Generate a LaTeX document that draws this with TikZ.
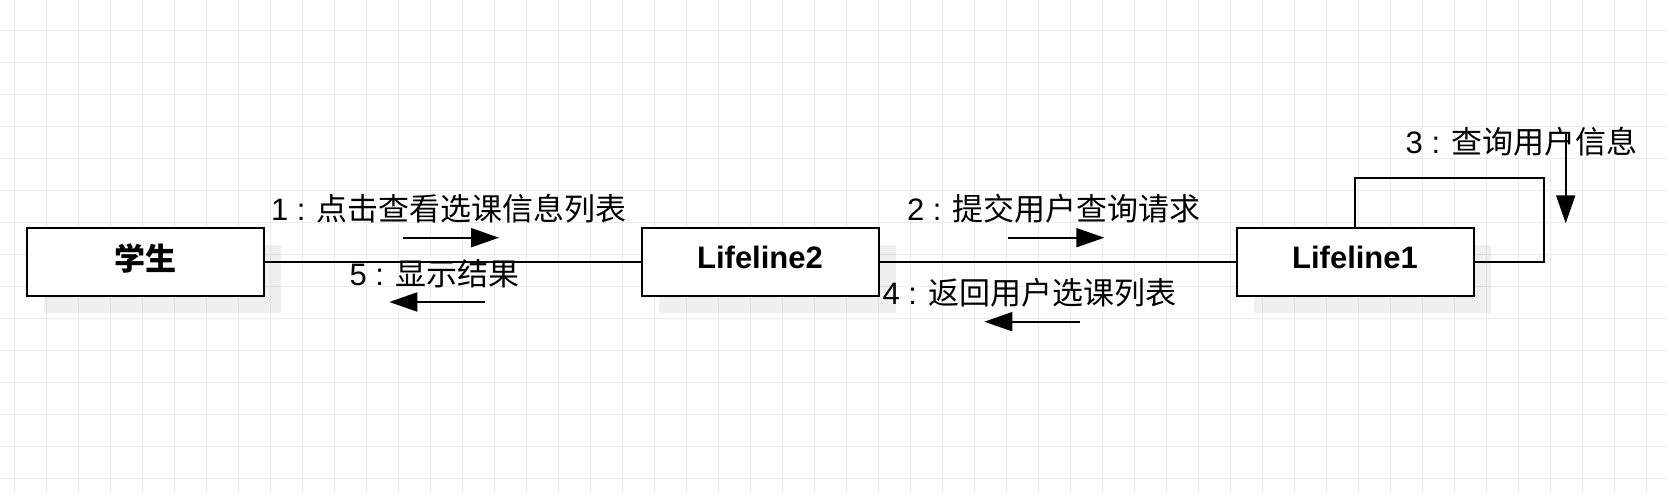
\documentclass[tikz,border=0pt]{standalone}
\usepackage{fontspec}
\setmainfont{Liberation Sans}
\newfontfamily\cjk{Noto Sans CJK SC}
\usetikzlibrary{arrows.meta,shadows}

\begin{document}
\begin{tikzpicture}[x=1pt,y=-1pt,
    font=\fontsize{31}{37}\selectfont,
    gridline/.style={draw=black!8,line width=1pt},
    lifeline/.style={draw,line width=2pt,fill=white,minimum width=237pt,minimum height=68pt,inner sep=0pt,text depth=10pt,font=\fontsize{31}{37}\selectfont\bfseries,drop shadow={shadow xshift=17pt,shadow yshift=-17pt,fill=black,opacity=0.06}},
    link/.style={line width=2pt},
    msgarrow/.style={line width=2pt,-{Triangle[length=28pt,width=19pt]}},
    msglabel/.style={anchor=base,inner sep=0pt}]
    \fill[white] (0,0) rectangle (1668,494);
    \useasboundingbox (0,0) rectangle (1668,494);
    \foreach \k in {0,...,51}
        \draw[gridline] ({14.3+32*\k},0) -- ({14.3+32*\k},494);
    \foreach \k in {0,...,14}
        \draw[gridline] (0,{30.3+32*\k}) -- (1668,{30.3+32*\k});
    
    \node[lifeline] (stu) at (145.5,262.5) {\cjk 学生};
    \node[lifeline] (ll2) at (760,262.5) {Lifeline2};
    \node[lifeline] (ll1) at (1355,262.5) {Lifeline1};
    
    \draw[link] (stu) -- (ll2);
    \draw[link] (ll2) -- (ll1);
    \coordinate (loop) at (1544,177.7);
    \draw[link] (ll1.north) |- (loop) |- (ll1.east);
    
    \node[msglabel] (m1) at (449,220.7) {1 : {\cjk 点击查看选课信息列表}};
    \node[msglabel] (m5) at (434.5,286) {5 : {\cjk 显示结果}};
    \node[msglabel] (m2) at (1054,220.7) {2 : {\cjk 提交用户查询请求}};
    \node[msglabel] (m4) at (1029.5,305) {4 : {\cjk 返回用户选课列表}};
    \node[msglabel] (m3) at (1521.7,153.3) {3 : {\cjk 查询用户信息}};
    
    \coordinate (a1s) at (403,237.7);
    \coordinate (a1e) at (499,237.7);
    \coordinate (a5s) at (485,302);
    \coordinate (a5e) at (389.3,302);
    \coordinate (a2s) at (1008.3,237.7);
    \coordinate (a2e) at (1104.3,237.7);
    \coordinate (a4s) at (1080,321.7);
    \coordinate (a4e) at (984.3,321.7);
    \coordinate (a3s) at (1565.7,133);
    \coordinate (a3e) at (1565.7,223.3);
    \draw[msgarrow] (a1s) -- (a1e);
    \draw[msgarrow] (a5s) -- (a5e);
    \draw[msgarrow] (a2s) -- (a2e);
    \draw[msgarrow] (a4s) -- (a4e);
    \draw[msgarrow] (a3s) -- (a3e);
\end{tikzpicture}
\end{document}
